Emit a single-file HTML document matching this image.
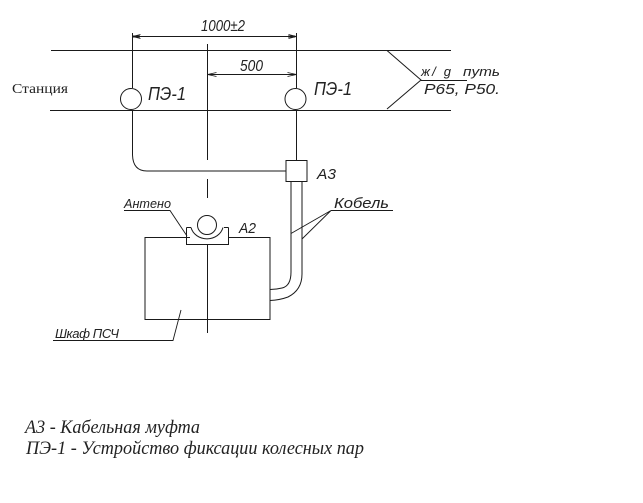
<!DOCTYPE html>
<html><head><meta charset="utf-8"><style>
html,body{margin:0;padding:0;background:#fff}
svg{display:block}
.c{font-family:"Liberation Sans",sans-serif;font-style:italic;fill:#222}
.s{font-family:"Liberation Serif",serif;font-style:italic;fill:#222}
</style></head><body>
<svg width="643" height="503" viewBox="0 0 643 503" xmlns="http://www.w3.org/2000/svg">
<rect width="643" height="503" fill="#fff"/>
<g fill="none" stroke="#1a1a1a" stroke-width="1">
<path d="M51 50.500H451M50 110.500H451"/>
<path d="M132.500 33V88M296.500 33V88"/>
<path d="M132.500 36.500H296.500M207.500 74.500H296.500"/>
<path d="M132.500 36.500l8 -2M132.500 36.500l8 2M296.500 36.500l-8 -2M296.500 36.500l-8 2M207.500 74.500l9 -2M207.500 74.500l9 2M296.500 74.500l-9 -2M296.500 74.500l-9 2" stroke-width=".8"/>
<path d="M133 36.500H140M288 36.500H295" stroke-width="2"/>
<path d="M207.500 44V160M207.500 179V198M207.500 235V333"/>
<circle cx="131" cy="99" r="10.500"/>
<circle cx="295.500" cy="99" r="10.500"/>
<path d="M132.500 110V155Q133 171 147 171H286"/>
<path d="M296.500 110V160"/>
<rect x="286" y="160.500" width="21" height="21"/>
<path d="M291 182V272Q291 286 282 288Q276 289.500 270 289.500M302 182V274Q302 290 288 297Q280 300 270 300.500"/>
<rect x="145" y="237.500" width="125" height="82"/>
<path d="M186.500 227.500H190V244.500H228.500V227.500H223" fill="#fff" stroke="none"/>
<path d="M186.500 227.500V244.500H228.500V227.500"/>
<path d="M186.500 227.500H191M224 227.500H228.500"/>
<path d="M191 227.500A16.500 15 0 0 0 223 227.500" fill="none"/>
<circle cx="207" cy="225" r="9.500"/>
<path d="M387 50.500L421 80L387 109M421 80.500H467"/>
<path d="M331 210.500H393M331 210.500L291 233.500M331 210.500L302 239" stroke-width=".9"/>
<path d="M124 210.500H170L187 236" stroke-width=".9"/>
<path d="M53 340.500H173L181 310" stroke-width=".9"/>
</g>
<text class="c" x="201" y="31" font-size="16" textLength="44" lengthAdjust="spacingAndGlyphs">1000±2</text>
<text class="c" x="240" y="71" font-size="16" textLength="23" lengthAdjust="spacingAndGlyphs">500</text>
<text x="12" y="93" font-family="Liberation Serif, serif" font-size="14" fill="#222" textLength="56" lengthAdjust="spacingAndGlyphs">Станция</text>
<text class="c" x="148" y="100" font-size="18" textLength="38" lengthAdjust="spacingAndGlyphs">ПЭ-1</text>
<text class="c" x="314" y="95" font-size="18" textLength="38" lengthAdjust="spacingAndGlyphs">ПЭ-1</text>
<text class="c" x="421" y="76" font-size="13" textLength="30" lengthAdjust="spacing">ж/ g</text>
<text class="c" x="463" y="76" font-size="13" textLength="37" lengthAdjust="spacingAndGlyphs">путь</text>
<text class="c" x="424" y="94" font-size="15" textLength="76" lengthAdjust="spacingAndGlyphs">Р65,  Р50.</text>
<text class="c" x="317" y="179" font-size="15" textLength="19" lengthAdjust="spacingAndGlyphs">А3</text>
<text class="c" x="334" y="208" font-size="15" textLength="55" lengthAdjust="spacingAndGlyphs">Кобель</text>
<text class="c" x="124" y="208" font-size="13" textLength="47" lengthAdjust="spacingAndGlyphs">Антено</text>
<text class="c" x="239" y="233" font-size="15" textLength="17" lengthAdjust="spacingAndGlyphs">А2</text>
<text class="c" x="55" y="338" font-size="13" textLength="64" lengthAdjust="spacing">Шкаф  ПСЧ</text>
<text class="s" x="25" y="433" font-size="19" textLength="175" lengthAdjust="spacingAndGlyphs">А3 - Кабельная муфта</text>
<text class="s" x="26" y="454" font-size="19" textLength="338" lengthAdjust="spacingAndGlyphs">ПЭ-1 - Устройство фиксации колесных пар</text>
</svg>
</body></html>
